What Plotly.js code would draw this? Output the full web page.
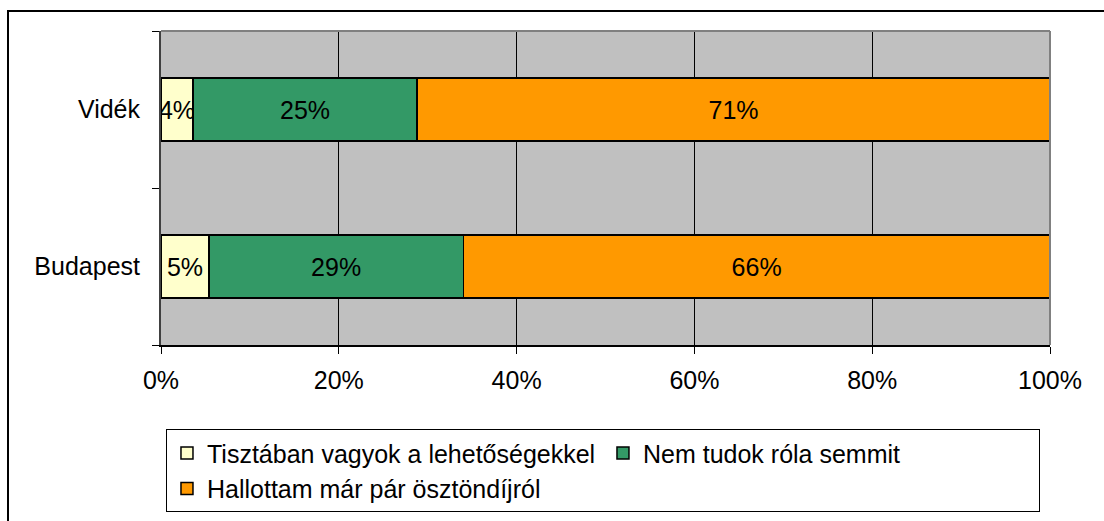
<!DOCTYPE html>
<html>
<head>
<meta charset="utf-8">
<script src="https://cdn.plot.ly/plotly-3.0.1.min.js"></script>
<style>
  html, body { margin: 0; background: #fff; overflow: hidden; }
  #frame { position: absolute; left: 7px; top: 10px; width: 2000px; height: 2000px;
           border-left: 2px solid #000; border-top: 2px solid #000; pointer-events: none; }
  #chart { position: absolute; left: 0; top: 0; width: 1104px; height: 521px; }
</style>
</head>
<body>
<div id="chart"></div>
<div id="frame"></div>
<script>
// régiók (alulról felfelé)
const regions = ['Budapest', 'Vidék'];

// válaszok aránya
const seriesNames = [
    'Tisztában vagyok a lehetőségekkel',
    'Nem tudok róla semmit',
    'Hallottam már pár ösztöndíjról'
];
const tisztaban = [0.054, 0.036];
const nemTudok = [0.286, 0.252];
const hallottam = [0.660, 0.712];

const colors = ['#FFFFCC', '#339966', '#FF9900'];
const FONT = '"Liberation Sans", Arial, sans-serif';
const FS = 25;

const traces = [tisztaban, nemTudok, hallottam].map((vals, i) => ({
    type: 'bar',
    orientation: 'h',
    name: seriesNames[i],
    y: regions,
    x: vals,
    marker: { color: colors[i], line: { color: '#000', width: 1.5 } },
    texttemplate: '%{x:.0%}',
    textposition: 'inside',
    insidetextanchor: 'middle',
    textangle: 0,
    constraintext: 'none',
    textfont: { family: FONT, size: FS, color: '#000' },
    hoverinfo: 'skip'
}));

const layout = {
    width: 1104,
    height: 521,
    margin: { l: 161, r: 54, t: 31, b: 176, autoexpand: false },
    paper_bgcolor: 'rgba(0,0,0,0)',
    plot_bgcolor: '#C0C0C0',
    barmode: 'stack',
    bargap: 0.6,
    font: { family: FONT, size: FS, color: '#000' },
    xaxis: {
        range: [0, 1],
        dtick: 0.2,
        tickformat: '.0%',
        showgrid: true,
        gridcolor: '#000',
        gridwidth: 1,
        zeroline: false,
        showline: true,
        linecolor: '#000',
        linewidth: 1.5,
        ticks: 'outside',
        ticklen: 7,
        tickcolor: '#000',
        ticklabelstandoff: 5,
        tickfont: { size: FS },
        automargin: false,
        fixedrange: true
    },
    yaxis: {
        type: 'category',
        showgrid: false,
        zeroline: false,
        showline: true,
        linecolor: '#404040',
        linewidth: 2,
        ticks: 'outside',
        tickson: 'boundaries',
        ticklen: 7,
        tickcolor: '#000',
        ticklabelstandoff: 14,
        tickfont: { size: FS },
        automargin: false,
        fixedrange: true
    },
    shapes: [
        { type: 'line', xref: 'paper', yref: 'paper', x0: 0, x1: 1, y0: 1, y1: 1,
          line: { color: '#808080', width: 2 } },
        { type: 'line', xref: 'paper', yref: 'paper', x0: 1, x1: 1, y0: 0, y1: 1,
          line: { color: '#808080', width: 2 } }
    ],
    showlegend: true,
    legend: {
        orientation: 'h',
        x: 0.0056,
        xanchor: 'left',
        y: -0.268,
        yanchor: 'top',
        entrywidth: 391,
        bgcolor: '#fff',
        bordercolor: '#000',
        borderwidth: 1,
        traceorder: 'normal',
        font: { family: FONT, size: FS, color: '#000' }
    }
};

Plotly.newPlot('chart', traces, layout, { displayModeBar: false, staticPlot: true });
</script>
</body>
</html>
